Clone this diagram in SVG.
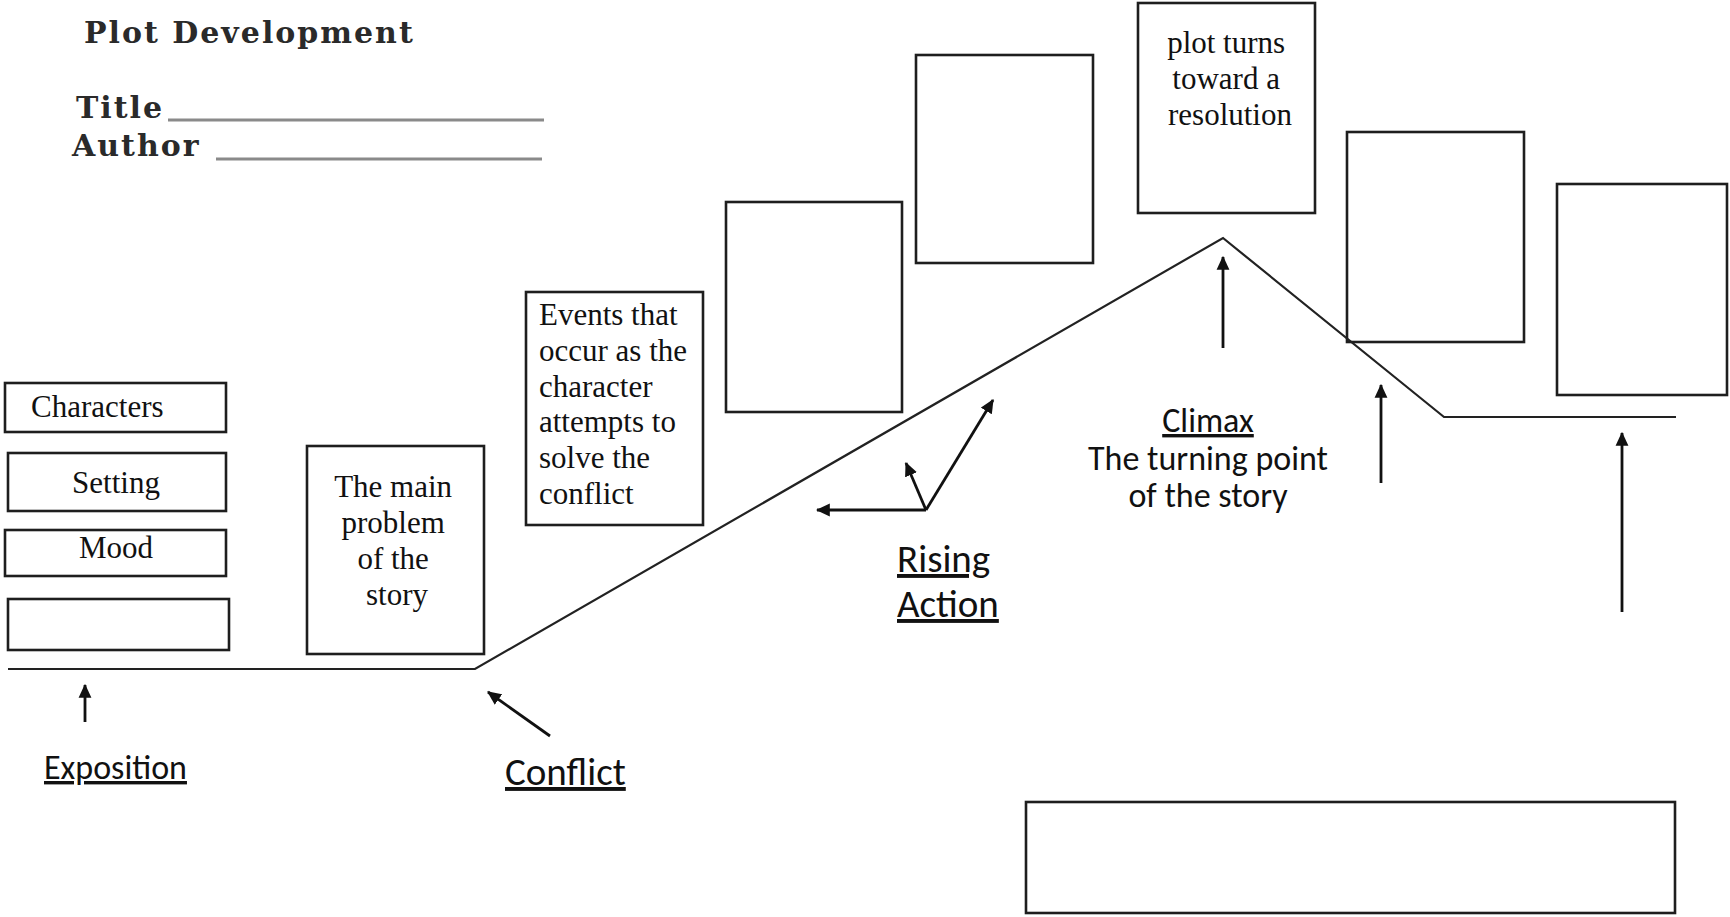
<svg xmlns="http://www.w3.org/2000/svg" width="1730" height="917" viewBox="0 0 1730 917">
<style>
.box{fill:none;stroke:#1e1e1e;stroke-width:2.6}
.serif{font-family:"Liberation Serif","Times New Roman",serif;font-size:31px;fill:#111}
.sans{font-family:Carlito,Lato,"Liberation Sans",sans-serif;fill:#111}
.head{font-family:"DejaVu Serif",serif;font-weight:bold;font-size:30px;letter-spacing:2px;fill:#2a2a2a}
.plot{fill:none;stroke:#222;stroke-width:2.2;stroke-linejoin:miter}
.arr{fill:none;stroke:#111;stroke-width:2.8;marker-end:url(#ah)}
.rule{stroke:#8a8a8a;stroke-width:3}
.u{text-decoration:underline}
</style>
<defs>
<marker id="ah" markerUnits="userSpaceOnUse" markerWidth="14" markerHeight="14" viewBox="0 0 12 12" refX="11" refY="6" orient="auto">
<path d="M0,0.5 L12,6 L0,11.5 z" fill="#111"/>
</marker>
</defs>
<rect width="1730" height="917" fill="#fff"/>

<g id="header">
<text class="head" x="84" y="43">Plot Development</text>
<text class="head" x="76" y="118">Title</text>
<line class="rule" x1="168" y1="120" x2="544" y2="120"/>
<text class="head" x="72" y="156">Author</text>
<line class="rule" x1="216" y1="159" x2="542" y2="159"/>
</g>

<g id="plot-line">
<path class="plot" d="M8,669 L475,669 L1223,238 L1444,417 L1676,417"/>
</g>

<g id="box-characters">
<rect class="box" x="5" y="383" width="221" height="49"/>
<text class="serif" x="31" y="417">Characters</text>
</g>
<g id="box-setting">
<rect class="box" x="8" y="453" width="218" height="58"/>
<text class="serif" x="116" y="493" text-anchor="middle">Setting</text>
</g>
<g id="box-mood">
<rect class="box" x="5" y="530" width="221" height="46"/>
<text class="serif" x="116" y="558" text-anchor="middle">Mood</text>
</g>
<g id="box-exposition-blank">
<rect class="box" x="8" y="599" width="221" height="51"/>
</g>
<g id="box-conflict">
<rect class="box" x="307" y="446" width="177" height="208"/>
<text class="serif" text-anchor="middle">
<tspan x="397" y="497">The main</tspan>
<tspan x="397" y="533">problem</tspan>
<tspan x="397" y="569">of the</tspan>
<tspan x="397" y="605">story</tspan>
</text>
</g>
<g id="box-rising-events">
<rect class="box" x="526" y="292" width="177" height="233"/>
<text class="serif">
<tspan x="539" y="325">Events that</tspan>
<tspan x="539" y="361">occur as the</tspan>
<tspan x="539" y="397">character</tspan>
<tspan x="539" y="432">attempts to</tspan>
<tspan x="539" y="468">solve the</tspan>
<tspan x="539" y="504">conflict</tspan>
</text>
</g>
<g id="box-rising-1">
<rect class="box" x="726" y="202" width="176" height="210"/>
</g>
<g id="box-rising-2">
<rect class="box" x="916" y="55" width="177" height="208"/>
</g>
<g id="box-climax">
<rect class="box" x="1138" y="3" width="177" height="210"/>
<text class="serif" text-anchor="middle">
<tspan x="1230" y="53">plot turns</tspan>
<tspan x="1230" y="89">toward a</tspan>
<tspan x="1230" y="125">resolution</tspan>
</text>
</g>
<g id="box-falling">
<rect class="box" x="1347" y="132" width="177" height="210"/>
</g>
<g id="box-resolution">
<rect class="box" x="1557" y="184" width="170" height="211"/>
</g>
<g id="box-bottom">
<rect class="box" x="1026" y="802" width="649" height="111"/>
</g>

<g id="labels">
<text class="sans u" x="44" y="779" font-size="34">Exposition</text>
<text class="sans u" x="505" y="785" font-size="39">Conflict</text>
<text class="sans u" x="897" y="572" font-size="39">Rising</text>
<text class="sans u" x="897" y="617" font-size="39">Action</text>
<text class="sans u" x="1208" y="432" font-size="34" text-anchor="middle">Climax</text>
<text class="sans" x="1208" y="470" font-size="34" text-anchor="middle">The turning point</text>
<text class="sans" x="1208" y="507" font-size="34" text-anchor="middle">of the story</text>
</g>

<g id="connectors">
<line class="arr" x1="85" y1="722" x2="85" y2="685"/>
<line class="arr" x1="550" y1="736" x2="488" y2="692"/>
<line class="arr" x1="926" y1="510" x2="817" y2="510"/>
<line class="arr" x1="926" y1="510" x2="906" y2="463"/>
<line class="arr" x1="926" y1="510" x2="993" y2="400"/>
<line class="arr" x1="1223" y1="348" x2="1223" y2="257"/>
<line class="arr" x1="1381" y1="483" x2="1381" y2="385"/>
<line class="arr" x1="1622" y1="612" x2="1622" y2="433"/>
</g>
</svg>
